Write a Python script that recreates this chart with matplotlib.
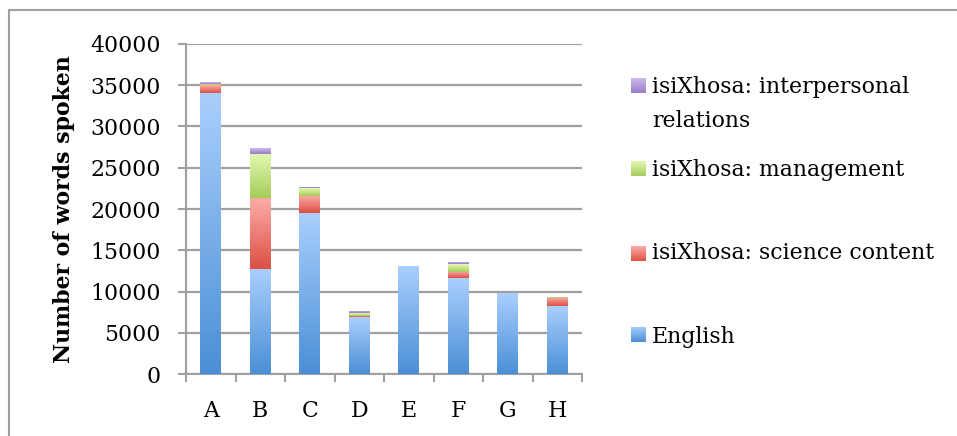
import numpy as np
import matplotlib
matplotlib.use("Agg")
import matplotlib.pyplot as plt
from matplotlib.colors import LinearSegmentedColormap
from matplotlib.patches import Rectangle

# ---- data ----
teachers = ["A", "B", "C", "D", "E", "F", "G", "H"]
english = [34100, 12700, 19500, 6900, 13050, 11600, 9800, 8200]
science = [900, 8650, 2100, 150, 0, 800, 0, 1000]
management = [150, 5350, 900, 300, 0, 900, 0, 170]
interpersonal = [200, 700, 170, 250, 0, 250, 0, 0]

series_names = ["English", "isiXhosa: science content",
                "isiXhosa: management", "isiXhosa: interpersonal\nrelations"]
y_ticks = [0, 5000, 10000, 15000, 20000, 25000, 30000, 35000, 40000]

# gradient colours (bottom, top)
GRADS = [("#4a8fd6", "#aacffd"),
         ("#dc4f44", "#fdaea9"),
         ("#a6cc58", "#e3f9b4"),
         ("#9a7bc6", "#cdbbec")]

plt.rcParams["font.family"] = ["DejaVu Serif"]
FS = 15.8

W, H = 957, 436
fig = plt.figure(figsize=(W / 100, H / 100), dpi=100)
ax = fig.add_axes([186 / W, (H - 374) / H, (582 - 186) / W, (374 - 44) / H])

x = np.arange(len(teachers))
bw = 0.42
bottoms = np.zeros(len(teachers))
grad = np.linspace(0, 1, 256).reshape(-1, 1)
for vals, (c0, c1) in zip([english, science, management, interpersonal], GRADS):
    vals = np.array(vals, dtype=float)
    cmap = LinearSegmentedColormap.from_list("g", [c0, c1])
    bars = ax.bar(x, vals, bw, bottom=bottoms, color=c1, linewidth=0, zorder=3)
    for b, v in zip(bars, vals):
        if v <= 0:
            continue
        x0, y0 = b.get_x(), b.get_y()
        im = ax.imshow(grad, cmap=cmap, origin="lower", aspect="auto",
                       extent=[x0, x0 + b.get_width(), y0, y0 + v], zorder=4)
        im.set_clip_path(b)
    bottoms += vals

ax.set_xlim(-0.5, 7.5)
ax.set_ylim(0, 40000)
ax.set_yticks(y_ticks)
ax.set_yticklabels([str(t) for t in y_ticks], fontsize=FS)
ax.set_xticks(x)
ax.set_xticklabels(teachers, fontsize=FS)
ax.set_xticks(np.arange(-0.5, 8, 1), minor=True)
ax.tick_params(axis="x", which="major", length=0, pad=19)
ax.tick_params(axis="x", which="minor", length=6, width=1.5, color="#a0a0a0", direction="out")
ax.tick_params(axis="y", length=6, width=1.5, color="#a0a0a0", direction="out", pad=12)
ax.grid(axis="y", color="#a0a0a0", linewidth=1.6, zorder=1)
ax.set_axisbelow(True)
for s in ["top", "right"]:
    ax.spines[s].set_visible(False)
for s in ["left", "bottom"]:
    ax.spines[s].set_color("#a0a0a0")
    ax.spines[s].set_linewidth(1.5)

ax.set_ylabel("Number of words spoken", fontsize=15.8, fontweight="bold")
ax.yaxis.set_label_coords(-111 / (582 - 186), 0.5)

# legend drawn by hand in figure pixels (swatches with the same gradient)
leg_y = [104, 170, 253, 337]
sw_y = [85.5, 168.5, 253.5, 334.5]
for name, (c0, c1), yy, sy in zip(series_names[::-1], GRADS[::-1], leg_y, sw_y):
    sax = fig.add_axes([631 / W, 1 - (sy + 7.5) / H, 15 / W, 15 / H])
    sax.imshow(grad, cmap=LinearSegmentedColormap.from_list("s", [c0, c1]),
               origin="lower", aspect="auto")
    sax.axis("off")
    fig.text(652 / W, 1 - yy / H, name, fontsize=FS, va="center",
             linespacing=1.7)

# outer frame (top and left edges visible)
fig.patches.append(Rectangle((9 / W, -0.1), 1.2, 1 - 10 / H + 0.1,
                             transform=fig.transFigure, facecolor="none",
                             edgecolor="#a0a0a0", linewidth=1.5))

fig.savefig("out.png", dpi=100)
